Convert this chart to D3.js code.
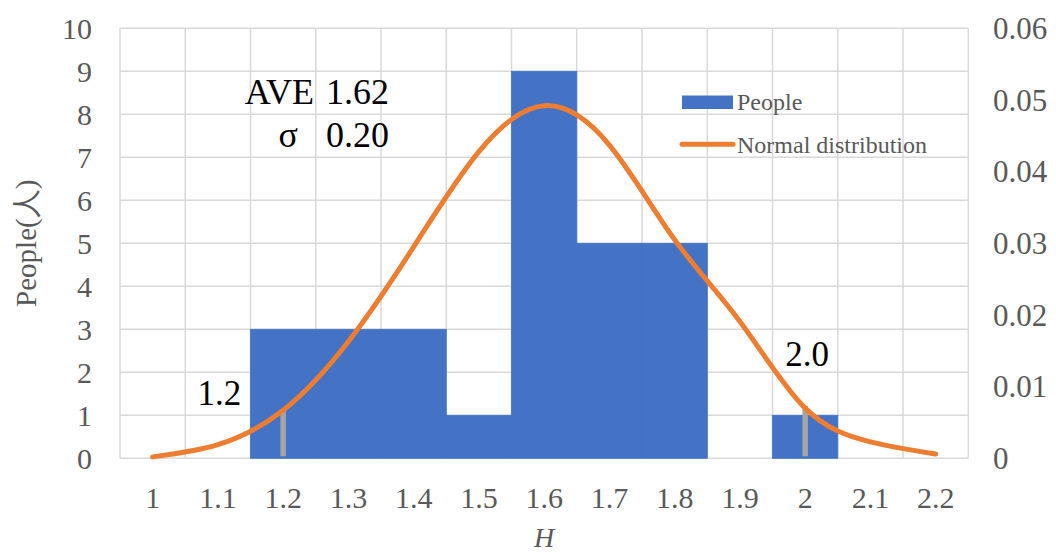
<!DOCTYPE html>
<html>
<head>
<meta charset="utf-8">
<script src="https://cdn.jsdelivr.net/npm/d3@7"></script>
<style>
  html, body { margin: 0; padding: 0; background: #fff; }
  svg { display: block; }
</style>
</head>
<body>
<svg id="chart" width="1056" height="552" font-family="'Liberation Serif', 'Times New Roman', serif"></svg>
<script>
// Histogram bins (H) and head counts
const categories = ["1", "1.1", "1.2", "1.3", "1.4", "1.5", "1.6", "1.7", "1.8", "1.9", "2", "2.1", "2.2"];
const people = [0, 0, 3, 3, 3, 1, 9, 5, 5, 0, 1, 0, 0];
// Fitted normal curve, right axis
const normalValues = [0.0002, 0.0019, 0.0067, 0.0163, 0.0295, 0.0428, 0.0492, 0.0437, 0.0305, 0.0191, 0.0070, 0.0023, 0.0006];
// Marker lines at the bounds
const markerCats = ["1.2", "2"];
const markerValues = [0.0068, 0.0073];
const markerLabels = ["1.2", "2.0"];
// Summary statistics
const statNames = ["AVE", "σ"];
const statValues = ["1.62", "0.20"];
// Axis ticks
const leftTicks = [0, 1, 2, 3, 4, 5, 6, 7, 8, 9, 10];
const rightTicks = [0, 0.01, 0.02, 0.03, 0.04, 0.05, 0.06];
const seriesNames = ["People", "Normal distribution"];

const svg = d3.select("#chart");
const serif = "'Liberation Serif', 'Times New Roman', serif";
const plot = { left: 120, right: 968.3, top: 28.3, bottom: 458.3 };

const x = d3.scaleBand().domain(categories).range([plot.left, plot.right]).padding(0);
const yL = d3.scaleLinear().domain([0, 10]).range([plot.bottom, plot.top]);
const yR = d3.scaleLinear().domain([0, 0.06]).range([plot.bottom, plot.top]);

const grid = "#D9D9D9";
const tickColor = "#595959";

// Gridlines
const g = svg.append("g");
g.selectAll("line.h").data(leftTicks).join("line")
  .attr("x1", plot.left).attr("x2", plot.right)
  .attr("y1", d => yL(d)).attr("y2", d => yL(d))
  .attr("stroke", grid).attr("stroke-width", 1.5);
const bounds = categories.map(c => x(c)).concat([x(categories[categories.length - 1]) + x.bandwidth()]);
g.selectAll("line.v").data(bounds).join("line")
  .attr("x1", d => d).attr("x2", d => d)
  .attr("y1", plot.top).attr("y2", plot.bottom)
  .attr("stroke", grid).attr("stroke-width", 1.5);

// Bars (stroked in fill colour so neighbouring bins merge)
svg.append("g").selectAll("rect").data(categories.map((c, i) => ({ c, v: people[i] })).filter(d => d.v > 0))
  .join("rect")
  .attr("x", d => x(d.c)).attr("width", x.bandwidth())
  .attr("y", d => yL(d.v)).attr("height", d => yL(0) - yL(d.v))
  .attr("fill", "#4472C4").attr("stroke", "#4472C4").attr("stroke-width", 0.8);

// Marker lines
svg.append("g").selectAll("line").data(markerCats.map((c, i) => ({ c, v: markerValues[i] })))
  .join("line")
  .attr("x1", d => x(d.c) + x.bandwidth() / 2).attr("x2", d => x(d.c) + x.bandwidth() / 2)
  .attr("y1", yR(0) - 2).attr("y2", d => yR(d.v))
  .attr("stroke", "#A5A5A5").attr("stroke-width", 5.5);

// Normal curve
const line = d3.line()
  .x((d, i) => x(categories[i]) + x.bandwidth() / 2)
  .y(d => yR(d))
  .curve(d3.curveNatural);
svg.append("path").datum(normalValues)
  .attr("d", line)
  .attr("fill", "none").attr("stroke", "#ED7D31")
  .attr("stroke-width", 5).attr("stroke-linecap", "round");

// Axis tick labels
svg.append("g").selectAll("text").data(leftTicks).join("text")
  .attr("x", 92).attr("y", d => yL(d)).attr("dy", "0.34em")
  .attr("text-anchor", "end").attr("font-size", 30).attr("font-family", serif).attr("fill", tickColor)
  .text(d => d);
svg.append("g").selectAll("text").data(rightTicks).join("text")
  .attr("x", 993).attr("y", d => yR(d)).attr("dy", "0.34em")
  .attr("text-anchor", "start").attr("font-size", 31).attr("font-family", serif).attr("fill", tickColor)
  .text(d => d === 0 ? "0" : d3.format(".2f")(d));
svg.append("g").selectAll("text").data(categories).join("text")
  .attr("x", d => x(d) + x.bandwidth() / 2).attr("y", 508)
  .attr("text-anchor", "middle").attr("font-size", 30).attr("font-family", serif).attr("fill", tickColor)
  .text(d => d);

// Axis titles
svg.append("text")
  .attr("x", (plot.left + plot.right) / 2).attr("y", 547)
  .attr("text-anchor", "middle").attr("font-size", 28).attr("font-style", "italic")
  .attr("font-family", serif).attr("fill", tickColor).text("H");
svg.append("text")
  .attr("transform", `translate(36,${(plot.top + plot.bottom) / 2}) rotate(-90)`)
  .attr("text-anchor", "middle").attr("font-size", 29).attr("font-family", serif)
  .attr("fill", tickColor).text("People(人)");

// Marker labels
const mlab = svg.append("g").attr("font-size", 35).attr("font-family", serif).attr("fill", "#000");
mlab.append("text")
  .attr("x", x(markerCats[0]) + x.bandwidth() / 2 - 42).attr("y", yR(markerValues[0]) - 5)
  .attr("text-anchor", "end").text(markerLabels[0]);
mlab.append("text")
  .attr("x", x(markerCats[1]) + x.bandwidth() / 2 + 2).attr("y", yR(markerValues[1]) - 40)
  .attr("text-anchor", "middle").text(markerLabels[1]);

// Statistics box
const stats = svg.append("g").attr("font-size", 36).attr("font-family", serif).attr("fill", "#000");
const statY = [104.3, 147.3];
stats.selectAll("text.n").data(statNames).join("text")
  .attr("x", (d, i) => i === 0 ? 314 : 298).attr("y", (d, i) => statY[i])
  .attr("text-anchor", "end").text(d => d);
stats.selectAll("text.v").data(statValues).join("text")
  .attr("x", 389).attr("y", (d, i) => statY[i])
  .attr("text-anchor", "end").text(d => d);

// Legend
const lg = svg.append("g").attr("font-size", 24).attr("font-family", serif).attr("fill", tickColor);
lg.append("rect").attr("x", 682).attr("y", 95.5).attr("width", 51).attr("height", 13.5).attr("fill", "#4472C4");
lg.append("line").attr("x1", 682).attr("x2", 733).attr("y1", 144.3).attr("y2", 144.3)
  .attr("stroke", "#ED7D31").attr("stroke-width", 5).attr("stroke-linecap", "round");
lg.append("text").attr("x", 737).attr("y", 110).text(seriesNames[0]);
lg.append("text").attr("x", 737).attr("y", 153).text(seriesNames[1]);
</script>
</body>
</html>
